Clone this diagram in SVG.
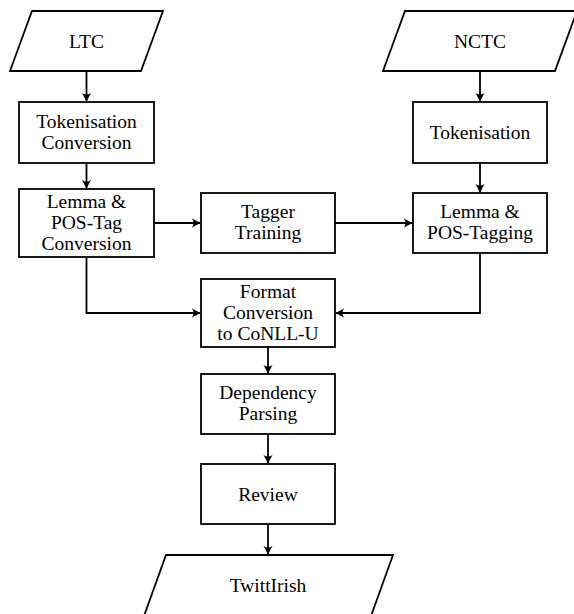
<svg xmlns="http://www.w3.org/2000/svg" width="574" height="614" viewBox="0 0 574 614">
<style>
.s{fill:#fff;stroke:#000;stroke-width:1.8}
.t{font-family:"Liberation Serif","Times New Roman",serif;font-size:19.5px;fill:#000;text-anchor:middle}
.c{fill:none;stroke:#000;stroke-width:1.8;marker-end:url(#ah)}
</style>
<defs>
<marker id="ah" markerUnits="userSpaceOnUse" markerWidth="12" markerHeight="12" viewBox="-10 -6 12 12" refX="0" refY="0" orient="auto" overflow="visible">
<path d="M0.5,0 L-8,-4.5 Q-5,0 -8,4.5 Z" fill="#000"/>
</marker>
</defs>
<rect width="574" height="614" fill="#fff"/>
<g id="connectors">
<path class="c" d="M86.5,71 V101"/>
<path class="c" d="M86.5,163 V188"/>
<path class="c" d="M154,223 H200"/>
<path class="c" d="M335,223 H412"/>
<path class="c" d="M480,71 V101"/>
<path class="c" d="M480,163 V192"/>
<path class="c" d="M86.5,257 V313 H200"/>
<path class="c" d="M480,253 V313 H336"/>
<path class="c" d="M268,347 V373"/>
<path class="c" d="M268,434 V463"/>
<path class="c" d="M268,524 V554"/>
</g>
<g id="ltc">
<polygon class="s" points="32,11 163,11 141,71 10,71"/>
<text class="t" x="86.5" y="48">LTC</text>
</g>
<g id="nctc">
<polygon class="s" points="405,11 577,11 555,71 383,71"/>
<text class="t" x="480" y="48">NCTC</text>
</g>
<g id="tokconv">
<rect class="s" x="19" y="102" width="135" height="61"/>
<text class="t" x="86.5" y="128">Tokenisation</text>
<text class="t" x="86.5" y="149">Conversion</text>
</g>
<g id="tok">
<rect class="s" x="413" y="102" width="134" height="61"/>
<text class="t" x="480" y="139">Tokenisation</text>
</g>
<g id="lemmaconv">
<rect class="s" x="19" y="189" width="135" height="68"/>
<text class="t" x="86.5" y="208">Lemma &amp;</text>
<text class="t" x="86.5" y="229">POS-Tag</text>
<text class="t" x="86.5" y="250">Conversion</text>
</g>
<g id="tagger">
<rect class="s" x="201" y="193" width="134" height="60"/>
<text class="t" x="268" y="218">Tagger</text>
<text class="t" x="268" y="239">Training</text>
</g>
<g id="lemmatag">
<rect class="s" x="413" y="193" width="134" height="60"/>
<text class="t" x="480" y="218">Lemma &amp;</text>
<text class="t" x="480" y="239">POS-Tagging</text>
</g>
<g id="format">
<rect class="s" x="201" y="279" width="134" height="68"/>
<text class="t" x="268" y="298">Format</text>
<text class="t" x="268" y="319">Conversion</text>
<text class="t" x="268" y="340">to CoNLL-U</text>
</g>
<g id="dep">
<rect class="s" x="201" y="374" width="134" height="60"/>
<text class="t" x="268" y="399">Dependency</text>
<text class="t" x="268" y="420">Parsing</text>
</g>
<g id="review">
<rect class="s" x="201" y="464" width="134" height="60"/>
<text class="t" x="268" y="501">Review</text>
</g>
<g id="twittirish">
<polygon class="s" points="166,555 393,555 371,616 144,616"/>
<text class="t" x="268" y="592">TwittIrish</text>
</g>
</svg>
